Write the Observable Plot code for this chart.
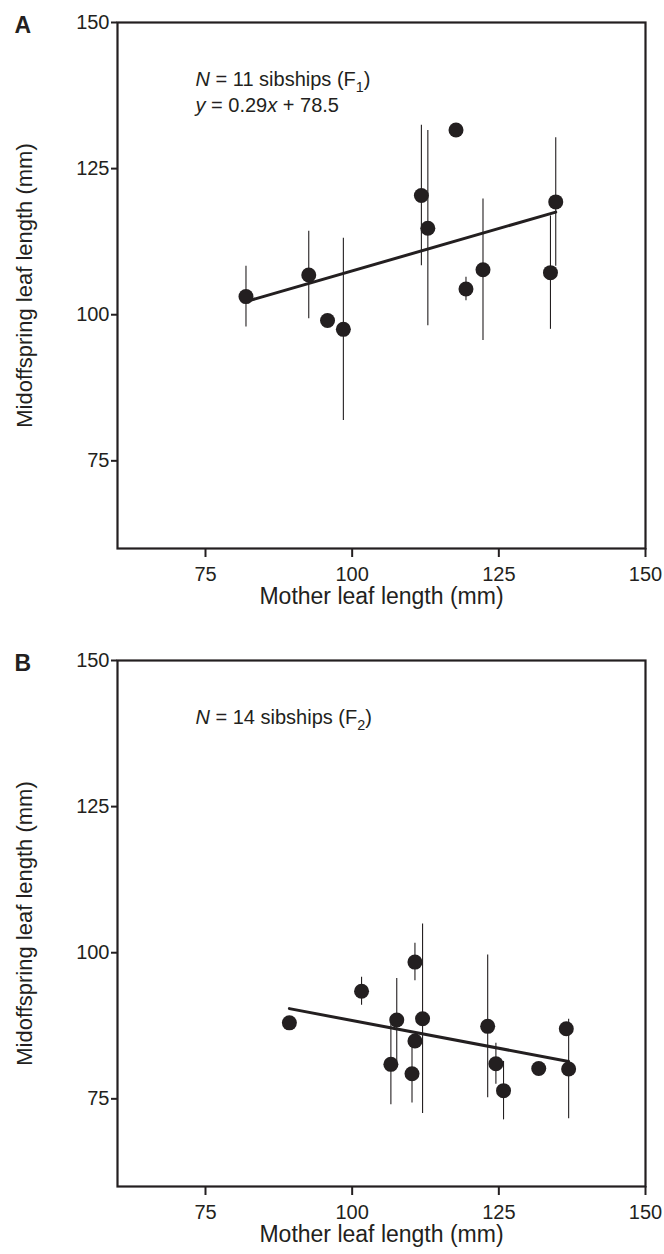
<!DOCTYPE html>
<html><head><meta charset="utf-8">
<script src="https://cdn.jsdelivr.net/npm/d3@7"></script>
<script src="https://cdn.jsdelivr.net/npm/@observablehq/plot@0.6"></script>
<style>
body{margin:0;background:#fff;width:664px;height:1254px;overflow:hidden}
svg{display:block}
</style></head><body><div id="chart"></div>
<script>
// ---- shared labels / ticks ----
const panelLabels = ["A", "B"];
const xLabel = "Mother leaf length (mm)";
const yLabel = "Midoffspring leaf length (mm)";
const tickValues = [75, 100, 125, 150];
const axisDomain = [60, 150];

// ---- Panel A (F1) ----
const motherA    = [81.9, 92.6, 95.8, 98.5, 111.8, 112.9, 117.7, 119.4, 122.3, 133.8, 134.7];
const offspringA = [103.1, 106.8, 99.0, 97.5, 120.4, 114.8, 131.6, 104.4, 107.7, 107.2, 119.3];
const errorA     = [5.2, 7.5, null, 15.6, 12.0, 16.7, null, 2.0, 12.1, 9.7, 11.0];
const slopeA = 0.29, interceptA = 78.5;
const notesA = ["*N* = 11 sibships (F_1)", "*y* = 0.29*x* + 78.5"];

// ---- Panel B (F2) ----
const motherB    = [89.3, 101.6, 106.6, 107.6, 110.2, 110.7, 110.7, 112.0, 123.1, 124.5, 125.8, 131.8, 136.5, 136.9];
const offspringB = [88.0, 93.4, 80.9, 88.5, 79.3, 98.4, 84.9, 88.7, 87.4, 81.0, 76.4, 80.2, 87.0, 80.1];
const errorB     = [null, 2.4, 6.9, 7.1, 5.0, 3.2, null, 16.2, 12.2, 3.5, 5.0, null, null, 8.5];
const slopeB = -0.19, interceptB = 107.4;
const notesB = ["*N* = 14 sibships (F_2)"];

const ink = "#231f20";
const noteSize = 20;

function richify(el) {
  const s = el.textContent;
  el.textContent = "";
  el.setAttribute("style", "white-space:pre");
  const re = /\*([^*]+)\*|_(\w)|([^*_]+)/g;
  let m, shifted = false;
  const sub = noteSize * 0.3;
  while ((m = re.exec(s))) {
    const t = d3.select(el).append("tspan");
    if (m[1]) {
      t.attr("font-style", "italic").text(m[1]);
      if (shifted) { t.attr("dy", -sub); shifted = false; }
    } else if (m[2]) {
      t.attr("font-size", noteSize * 0.72).attr("dy", sub).text(m[2]);
      shifted = true;
    } else {
      t.text(m[3]);
      if (shifted) { t.attr("dy", -sub); shifted = false; }
    }
  }
}

function makePanel({label, xs, ys, errs, slope, intercept, notes, height, marginTop, marginBottom}) {
  const pts = xs.map((x, i) => ({x, y: ys[i], e: errs[i]}));
  const bars = pts.filter(d => d.e != null);
  const fit = d3.extent(xs).map(x => ({x, y: slope * x + intercept}));
  const svg = Plot.plot({
    width: 664,
    height,
    marginLeft: 117,
    marginRight: 19,
    marginTop,
    marginBottom,
    style: {fontFamily: "'Liberation Sans', Arial, Helvetica, sans-serif", color: ink, background: "#fff"},
    x: {domain: axisDomain},
    y: {domain: axisDomain},
    marks: [
      Plot.ruleX(bars, {x: "x", y1: d => d.y - d.e, y2: d => d.y + d.e, stroke: ink, strokeWidth: 1.1}),
      Plot.line(fit, {x: "x", y: "y", stroke: ink, strokeWidth: 3}),
      Plot.dot(pts, {x: "x", y: "y", r: 7.5, fill: ink, stroke: null}),
      Plot.frame({stroke: ink, strokeWidth: 2.2}),
      Plot.axisX({ticks: tickValues, tickSize: 9, tickPadding: 9, strokeWidth: 2, fontSize: 20, label: null}),
      Plot.axisY({ticks: tickValues, tickSize: 6, tickPadding: 2, strokeWidth: 2, fontSize: 20, label: null}),
      Plot.text([xLabel], {frameAnchor: "bottom", dy: 39, textAnchor: "middle", lineAnchor: "top", fontSize: 23, fill: ink}),
      Plot.text([yLabel], {frameAnchor: "left", rotate: -90, dx: -101, textAnchor: "middle", lineAnchor: "top", fontSize: 22, fill: ink}),
      Plot.text([label], {frameAnchor: "top-left", dx: -103, dy: -6, textAnchor: "start", lineAnchor: "top", fontSize: 23, fontWeight: "bold", fill: ink}),
      ...notes.map((t, i) => Plot.text([t], {frameAnchor: "top-left", dx: 78, dy: 63 + i * 26, textAnchor: "start", lineAnchor: "bottom", fontSize: noteSize, fill: ink}))
    ]
  });
  d3.select(svg).selectAll("text").filter(function () {
    return notes.includes(this.textContent);
  }).each(function () { richify(this); });
  return svg;
}

const root = document.getElementById("chart");
root.appendChild(makePanel({label: panelLabels[0], xs: motherA, ys: offspringA, errs: errorA, slope: slopeA, intercept: interceptA, notes: notesA, height: 638, marginTop: 22, marginBottom: 90}));
root.appendChild(makePanel({label: panelLabels[1], xs: motherB, ys: offspringB, errs: errorB, slope: slopeB, intercept: interceptB, notes: notesB, height: 616, marginTop: 22, marginBottom: 68}));
</script>
</body></html>
